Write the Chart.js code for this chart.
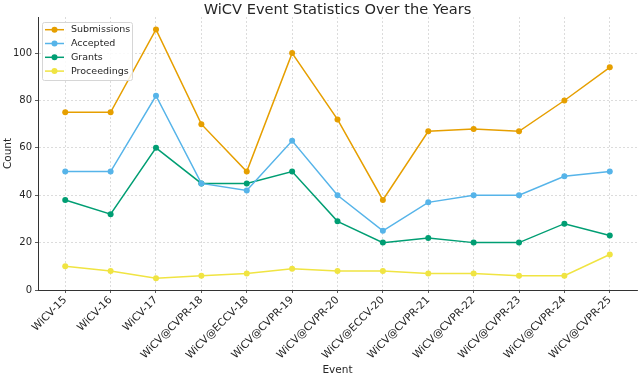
<!DOCTYPE html>
<html>
<head>
<meta charset="utf-8">
<script src="https://cdn.jsdelivr.net/npm/chart.js@4/dist/chart.umd.min.js"></script>
<style>
html,body{margin:0;padding:0;background:#fff;}
#wrap{width:640px;height:375px;position:relative;}
</style>
</head>
<body>
<div id="wrap"><canvas id="c" width="640" height="375"></canvas></div>
<script>
const categories = ["WiCV-15","WiCV-16","WiCV-17","WiCV@CVPR-18","WiCV@ECCV-18","WiCV@CVPR-19","WiCV@CVPR-20","WiCV@ECCV-20","WiCV@CVPR-21","WiCV@CVPR-22","WiCV@CVPR-23","WiCV@CVPR-24","WiCV@CVPR-25"];
const submissions = [75, 75, 110, 70, 50, 100, 72, 38, 67, 68, 67, 80, 94];
const accepted    = [50, 50, 82, 45, 42, 63, 40, 25, 37, 40, 40, 48, 50];
const grants      = [38, 32, 60, 45, 45, 50, 29, 20, 22, 20, 20, 28, 23];
const proceedings = [10, 8, 5, 6, 7, 9, 8, 8, 7, 7, 6, 6, 15];
const seriesNames = ["Submissions","Accepted","Grants","Proceedings"];
const yTicks = [0, 20, 40, 60, 80, 100];

const colors = ["#E69F00","#56B4E9","#009E73","#F0E442"];
const FONT = "'DejaVu Sans', sans-serif";
const TXT = "#262626";

function pts(arr){ return arr.map((v,i)=>({x:i,y:v})); }
const all = [submissions, accepted, grants, proceedings];
const datasets = all.map((arr,k)=>({
  label: seriesNames[k],
  data: pts(arr),
  borderColor: colors[k],
  backgroundColor: colors[k],
  borderWidth: 1.5,
  pointRadius: 3,
  pointHoverRadius: 3,
  pointBorderWidth: 0,
  tension: 0
}));

const textPlugin = {
  id: 'texts',
  afterDraw(chart){
    const ctx = chart.ctx, a = chart.chartArea;
    ctx.save();
    ctx.fillStyle = TXT;
    ctx.font = "14.6px " + FONT;
    ctx.textAlign = 'center';
    ctx.textBaseline = 'alphabetic';
    ctx.fillText("WiCV Event Statistics Over the Years", (a.left+a.right)/2, 13.5);
    ctx.font = "10.5px " + FONT;
    ctx.fillText("Event", (a.left+a.right)/2, 373);
    ctx.translate(11, (a.top+a.bottom)/2);
    ctx.rotate(-Math.PI/2);
    ctx.fillText("Count", 0, 0);
    ctx.restore();

    // legend
    ctx.save();
    const lx = 42, ly = 22, lw = 90, lh = 58;
    ctx.fillStyle = "rgba(255,255,255,0.85)";
    ctx.strokeStyle = "#d6d6d6";
    ctx.lineWidth = 1;
    ctx.beginPath();
    if (ctx.roundRect) ctx.roundRect(lx+0.5, ly+0.5, lw, lh, 2); else ctx.rect(lx+0.5, ly+0.5, lw, lh);
    ctx.fill(); ctx.stroke();
    chart.data.datasets.forEach((ds,i)=>{
      const y = 29.7 + i*13.8;
      ctx.strokeStyle = ds.borderColor;
      ctx.lineWidth = 1.5;
      ctx.beginPath(); ctx.moveTo(45, y); ctx.lineTo(64, y); ctx.stroke();
      ctx.fillStyle = ds.borderColor;
      ctx.beginPath(); ctx.arc(54.5, y, 3, 0, Math.PI*2); ctx.fill();
      ctx.fillStyle = TXT;
      ctx.font = "9.5px " + FONT;
      ctx.textAlign = 'left';
      ctx.textBaseline = 'middle';
      ctx.fillText(ds.label, 71, y);
    });
    ctx.restore();
  }
};

new Chart(document.getElementById('c'), {
  type: 'line',
  data: { datasets },
  options: {
    responsive: false,
    animation: false,
    devicePixelRatio: 1,
    layout: { padding: { top: 17, right: 1, left: 0, bottom: 0 } },
    plugins: { legend: { display: false }, title: { display: false }, tooltip: { enabled: false } },
    scales: {
      x: {
        type: 'linear',
        min: -0.6,
        max: categories.length - 1 + 0.6,
        afterFit(s){ s.height = 85; },
        afterBuildTicks(s){ s.ticks = categories.map((c,i)=>({value:i})); },
        ticks: {
          autoSkip: false,
          maxRotation: 45, minRotation: 45,
          color: TXT,
          font: { family: FONT, size: 10.5 },
          padding: 1,
          callback: (v)=> categories[v] !== undefined ? categories[v] : ''
        },
        grid: { color: "#d4d4d4", lineWidth: 0.8, drawTicks: true, tickLength: 3, tickColor: "#333", tickBorderDash: [] },
        border: { display: true, color: "#333", width: 1, dash: [2, 2] }
      },
      y: {
        type: 'linear',
        min: 0,
        max: 115.25,
        afterFit(s){ s.width = 38; },
        afterBuildTicks(s){ s.ticks = yTicks.map(v=>({value:v})); },
        ticks: {
          color: TXT,
          font: { family: FONT, size: 10 },
          padding: 3
        },
        grid: { color: "#d4d4d4", lineWidth: 0.8, drawTicks: true, tickLength: 3, tickColor: "#333", tickBorderDash: [] },
        border: { display: true, color: "#333", width: 1, dash: [2, 2] }
      }
    }
  },
  plugins: [textPlugin]
});
</script>
</body>
</html>
